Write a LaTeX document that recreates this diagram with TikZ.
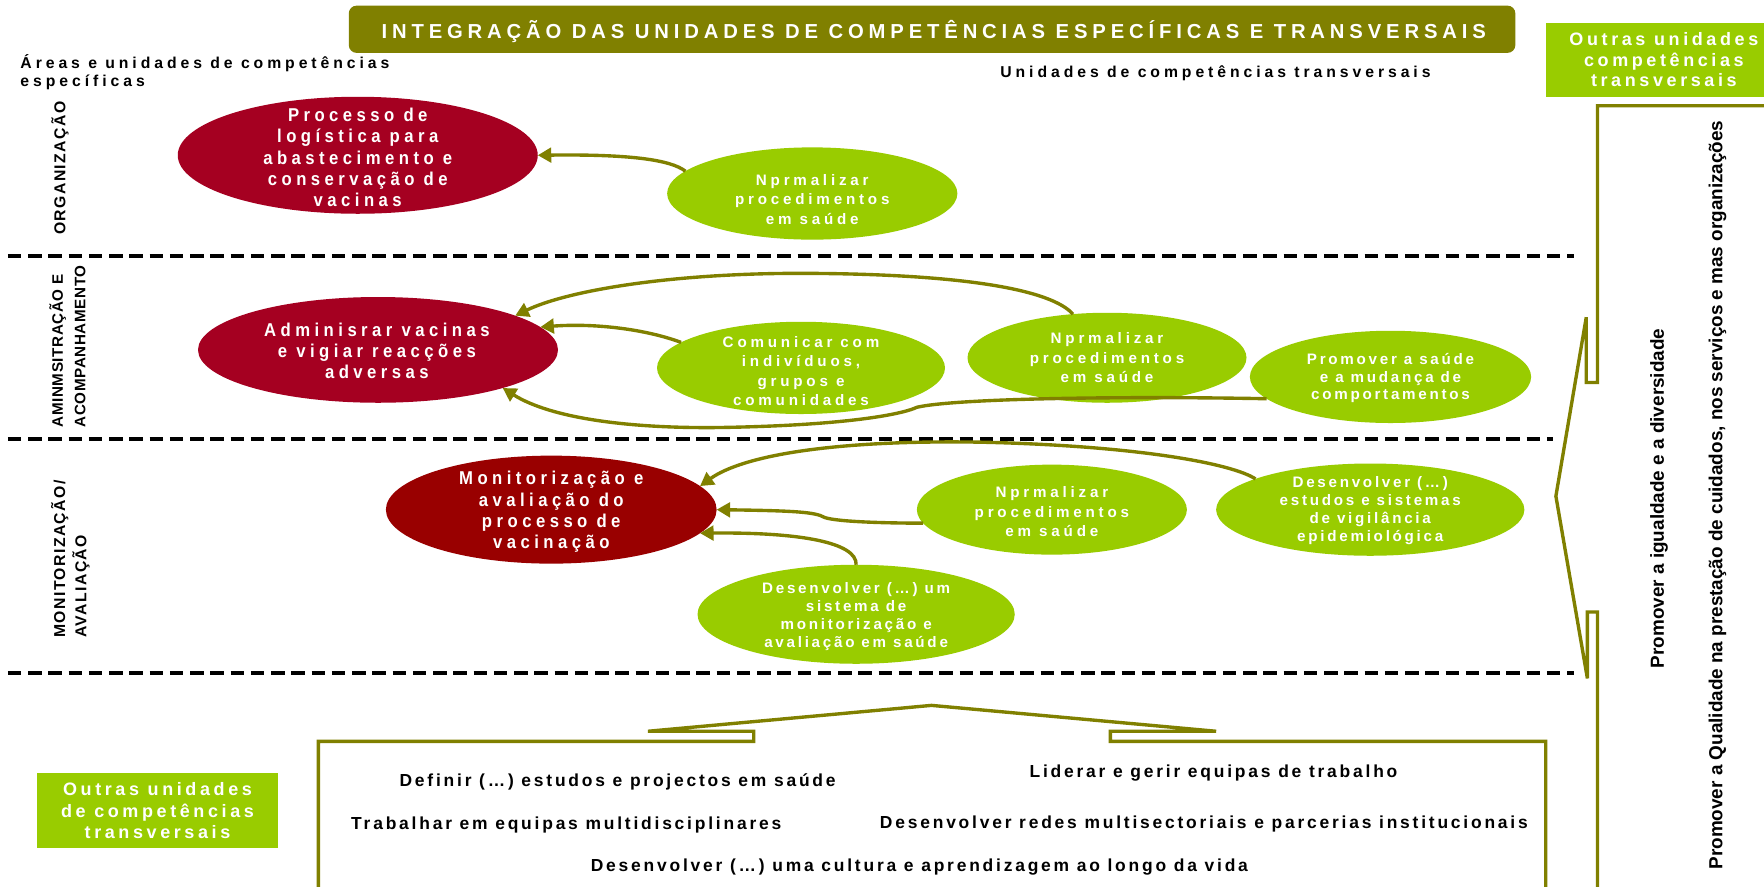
\documentclass[tikz,border=0pt]{standalone}
\usepackage{fontspec}
\setmainfont{Liberation Sans}
\newfontfamily\fTitle{Liberation Sans}[LetterSpace=24]
\newfontfamily\fEll{Liberation Sans}[LetterSpace=24,FakeStretch=0.9]
\newfontfamily\fGr{Liberation Sans}[LetterSpace=25]
\newfontfamily\fGrB{Liberation Sans}[LetterSpace=18]
\newfontfamily\fHead{Liberation Sans}[LetterSpace=25]
\newfontfamily\fBox{Liberation Sans}[LetterSpace=20]
\newfontfamily\fBot{Liberation Sans}[LetterSpace=16]
\newfontfamily\fSideA{Liberation Sans}[LetterSpace=9]
\newfontfamily\fSideB{Liberation Sans}[LetterSpace=4]
\usetikzlibrary{arrows.meta,shapes.geometric}
\definecolor{olivex}{RGB}{128,128,0}
\definecolor{greenx}{RGB}{153,204,0}
\definecolor{redA}{RGB}{165,0,33}
\definecolor{redB}{RGB}{153,0,0}
\tikzset{
  ell/.style={ellipse, draw=none, inner sep=0pt, outer sep=0pt},
  redell/.style={ell, fill=redA},
  darkell/.style={ell, fill=redB},
  grell/.style={ell, fill=greenx},
  redtxt/.style={text=white, align=center, inner sep=0pt, font=\fEll\bfseries\fontsize{16.5}{18.8}\selectfont},
  grtxt/.style={text=white, align=center, inner sep=0pt, font=\fGr\bfseries\fontsize{13.5}{17.3}\selectfont},
  grtxtb/.style={text=white, align=center, inner sep=0pt, font=\fGrB\bfseries\fontsize{13.5}{15.8}\selectfont},
  conn/.style={draw=olivex, line width=3pt, -{Triangle[length=12pt,width=13pt]}},
  dline/.style={draw=black, line width=3.5pt, dash pattern=on 12pt off 6pt},
  brk/.style={draw=olivex, line width=3pt, line join=miter},
  head/.style={text=black, inner sep=0pt, align=left, font=\fHead\bfseries\fontsize{14}{16.5}\selectfont},
  bot/.style={text=black, inner sep=0pt, font=\fBot\bfseries\fontsize{15.5}{18}\selectfont},
  gbox/.style={fill=greenx, inner sep=0pt, text=white, align=center, font=\fBox\bfseries\fontsize{16}{18.3}\selectfont},
  gboxb/.style={gbox, font=\fBox\bfseries\fontsize{16}{19.5}\selectfont},
  sideA/.style={text=black, inner sep=0pt, rotate=90, align=left, font=\fSideA\bfseries\fontsize{14}{19}\selectfont},
  sideB/.style={text=black, inner sep=0pt, rotate=90, align=left, font=\fSideB\bfseries\fontsize{13.5}{20}\selectfont},
  sideR/.style={text=black, inner sep=0pt, rotate=90, font=\bfseries\fontsize{16.8}{20}\selectfont},
}
\begin{document}
\begin{tikzpicture}[x=1pt,y=-1pt]
\useasboundingbox (0,0) rectangle (1568,788);
\fill[white] (0,0) rectangle (1568,788);
\clip (0,0) rectangle (1568,788);

% dashed separators
\draw[dline] (7,227.5) -- (1399,227.5);
\draw[dline] (7,390) -- (1380,390);
\draw[dline] (7,598) -- (1399,598);

% title
\node[fill=olivex, rounded corners=7pt, minimum width=1037pt, minimum height=42pt, inner sep=0pt] (title) at (828.5,26) {};
\node[text=white, inner sep=0pt, anchor=base, font=\fTitle\bfseries\fontsize{18}{20}\selectfont] (titlet) at (830,34) {INTEGRAÇÃO DAS UNIDADES DE COMPETÊNCIAS ESPECÍFICAS E TRANSVERSAIS};

% headers
\node[head, anchor=north west] (hleft) at (18,48) {Áreas e unidades de competências\\específicas};
\node[head, anchor=base west] (hright) at (889,68.5) {Unidades de competências transversais};

% green boxes
\node[gbox, minimum width=210pt, minimum height=66pt] (obox1) at (1479,53) {Outras unidades\\competências\\transversais};
\node[gboxb, minimum width=214pt, minimum height=67pt] (obox2) at (140,720.5) {Outras unidades\\de competências\\transversais};

% left vertical labels
\node[sideA, anchor=base west] (lorg) at (58,209) {ORGANIZAÇÃO};
\node[sideB, anchor=west] (ladm) at (60,380) {AMINMSITRAÇÃO E\\ACOMPANHAMENTO};
\node[sideA, anchor=west] (lmon) at (62.5,567) {MONITORIZAÇÃO/\\AVALIAÇÃO};

% right brackets
\draw[brk] (1580,94) -- (1420,94) -- (1420,340) -- (1410,340) -- (1410,282) -- (1383,441) -- (1411,603) -- (1411,544) -- (1420,544) -- (1420,800);
\draw[brk] (283,800) -- (283,659) -- (670,659) -- (670,650) -- (576,650) -- (828,627) -- (1081,650) -- (987,650) -- (987,659) -- (1374,659) -- (1374,800);

% right vertical labels
\node[sideR, anchor=base west] (rig) at (1479,594) {Promover a igualdade e a diversidade};
\node[sideR, anchor=base west] (rql) at (1531,773) {Promover a Qualidade na prestação de cuidados, nos serviços e mas organizações};

% ellipses
\node[redell, minimum width=320pt, minimum height=104pt] (e1) at (318,138) {};
\node[redell, minimum width=320pt, minimum height=94pt] (e2) at (336,311) {};
\node[darkell, minimum width=294pt, minimum height=96pt] (e3) at (490,453) {};
\node[grell, minimum width=258pt, minimum height=82pt] (g1) at (722,172) {};
\node[grell, minimum width=256pt, minimum height=82pt] (g2) at (712,327) {};
\node[grell, minimum width=248pt, minimum height=80pt] (g3) at (984,318) {};
\node[grell, minimum width=250pt, minimum height=82pt] (g4) at (1236,335) {};
\node[grell, minimum width=240pt, minimum height=80pt] (g5) at (935,453) {};
\node[grell, minimum width=274pt, minimum height=82pt] (g6) at (1218,453) {};
\node[grell, minimum width=282pt, minimum height=88pt] (g7) at (761,546) {};

% ellipse texts
\node[redtxt] (e1t) at (318,140) {Processo de\\logística para\\abastecimento e\\conservação de\\vacinas};
\node[redtxt] (e2t) at (335,312) {Adminisrar vacinas\\e vigiar reacções\\adversas};
\node[redtxt] (e3t) at (490,455) {Monitorização e\\avaliação do\\processo de\\vacinação};
\node[grtxt] (g1t) at (722,177) {Nprmalizar\\procedimentos\\em saúde};
\node[grtxt] (g2t) at (712,330) {Comunicar com\\indivíduos,\\grupos e\\comunidades};
\node[grtxt] (g3t) at (984,318) {Nprmalizar\\procedimentos\\em saúde};
\node[grtxtb] (g4t) at (1236,336) {Promover a saúde\\e a mudança de\\comportamentos};
\node[grtxt] (g5t) at (935,455) {Nprmalizar\\procedimentos\\em saúde};
\node[grtxtb] (g6t) at (1218,454) {Desenvolver (…)\\estudos e sistemas\\de vigilância\\epidemiológica};
\node[grtxtb] (g7t) at (761,548) {Desenvolver (…) um\\sistema de\\monitorização e\\avaliação em saúde};

% connectors
\draw[conn] (g1.170) .. controls (596,142) and (560,137) .. (e1.east);
\draw[conn] (g3.128) .. controls (935,258) and (860,244) .. (722,243) .. controls (600,242) and (505,258) .. (e2.14);
\draw[conn] (g2.168) .. controls (575,293) and (530,287) .. (e2.8);
\draw[conn] (g4.190) .. controls (1000,352) and (850,354) .. (815,362) .. controls (805,367) and (760,378) .. (640,380) .. controls (560,381) and (490,372) .. (e2.-17);
\draw[conn] (g6.165) .. controls (1095,412) and (1010,396) .. (870,393) .. controls (740,391) and (660,405) .. (e3.9);
\draw[conn] (g5.186) .. controls (790,465) and (745,464) .. (733,460) .. controls (725,455) and (705,454) .. (e3.east);
\draw[conn] (g7.north) .. controls (762,482) and (710,473) .. (e3.-9);

% bottom texts
\node[bot, anchor=base west] (b1) at (355,699.5) {Definir (…) estudos e projectos em saúde};
\node[bot, anchor=base west] (b2) at (915,691.5) {Liderar e gerir equipas de trabalho};
\node[bot, anchor=base west] (b3) at (312,737) {Trabalhar em equipas multidisciplinares};
\node[bot, anchor=base west] (b4) at (782,736) {Desenvolver redes multisectoriais e parcerias institucionais};
\node[bot, anchor=base west] (b5) at (525,774.5) {Desenvolver (…) uma cultura e aprendizagem ao longo da vida};
\end{tikzpicture}
\end{document}
